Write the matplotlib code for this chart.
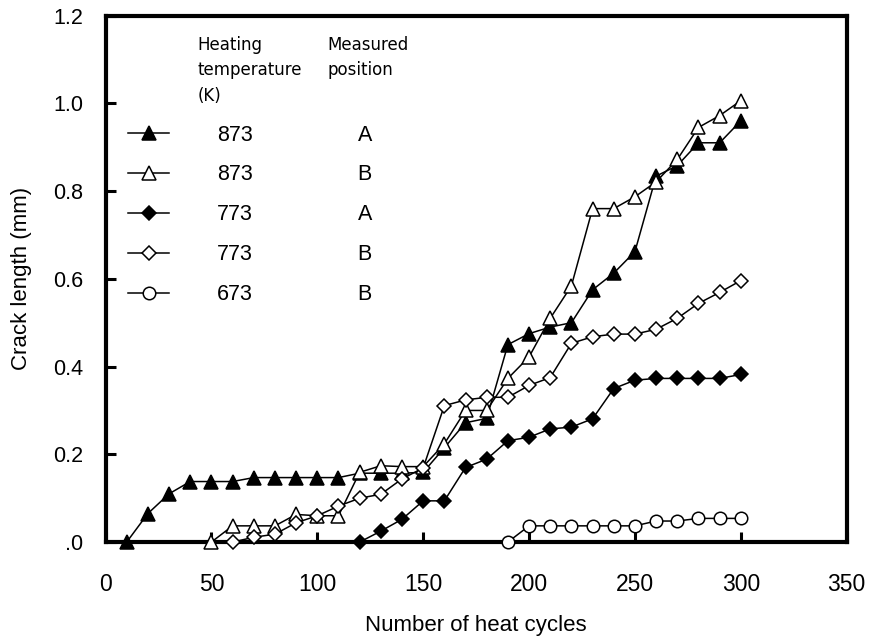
import matplotlib
matplotlib.use("Agg")
import matplotlib.pyplot as plt
from matplotlib.lines import Line2D

plt.rcParams['font.family'] = ['Liberation Sans', 'DejaVu Sans']

# ---- data ----
cyc_873A = [10, 20, 30, 40, 50, 60, 70, 80, 90, 100, 110, 120, 130, 140, 150, 160,
            170, 180, 190, 200, 210, 220, 230, 240, 250, 260, 270, 280, 290, 300]
len_873A = [0.0, 0.065, 0.11, 0.138, 0.138, 0.138, 0.147, 0.147, 0.147, 0.147, 0.147,
            0.157, 0.157, 0.157, 0.159, 0.215, 0.272, 0.282, 0.45, 0.475, 0.49, 0.50,
            0.575, 0.613, 0.662, 0.834, 0.858, 0.91, 0.91, 0.96]

cyc_873B = [50, 60, 70, 80, 90, 100, 110, 120, 130, 140, 150, 160, 170, 180, 190, 200,
            210, 220, 230, 240, 250, 260, 270, 280, 290, 300]
len_873B = [0.0, 0.037, 0.037, 0.037, 0.063, 0.06, 0.06, 0.159, 0.174, 0.172, 0.172,
            0.224, 0.30, 0.30, 0.373, 0.422, 0.51, 0.584, 0.760, 0.760, 0.787, 0.821,
            0.872, 0.945, 0.972, 1.006]

cyc_773A = [120, 130, 140, 150, 160, 170, 180, 190, 200, 210, 220, 230, 240, 250,
            260, 270, 280, 290, 300]
len_773A = [0.0, 0.025, 0.052, 0.094, 0.094, 0.17, 0.189, 0.231, 0.239, 0.258, 0.262,
            0.281, 0.35, 0.369, 0.373, 0.373, 0.373, 0.373, 0.382]

cyc_773B = [60, 70, 80, 90, 100, 110, 120, 130, 140, 150, 160, 170, 180, 190, 200,
            210, 220, 230, 240, 250, 260, 270, 280, 290, 300]
len_773B = [0.0, 0.011, 0.018, 0.044, 0.06, 0.082, 0.10, 0.109, 0.144, 0.169, 0.311,
            0.324, 0.33, 0.33, 0.357, 0.375, 0.453, 0.468, 0.474, 0.474, 0.485, 0.51,
            0.544, 0.569, 0.596]

cyc_673B = [190, 200, 210, 220, 230, 240, 250, 260, 270, 280, 290, 300]
len_673B = [0.0, 0.037, 0.037, 0.037, 0.037, 0.037, 0.037, 0.048, 0.048, 0.054, 0.054, 0.054]

temps = ['873', '873', '773', '773', '673']
positions = ['A', 'B', 'A', 'B', 'B']

xticks = [0, 50, 100, 150, 200, 250, 300, 350]
yticks = [0.0, 0.2, 0.4, 0.6, 0.8, 1.0, 1.2]
ytick_labels = ['.0', '0.2', '0.4', '0.6', '0.8', '1.0', '1.2']

# ---- figure ----
fig = plt.figure(figsize=(8.72, 6.37), dpi=100)
ax = fig.add_axes([0.121, 0.149, 0.850, 0.8266])

series = [
    (cyc_873A, len_873A, '^', 'black', 10.5),
    (cyc_873B, len_873B, '^', 'white', 10.5),
    (cyc_773A, len_773A, 'D', 'black', 7.5),
    (cyc_773B, len_773B, 'D', 'white', 7.5),
    (cyc_673B, len_673B, 'o', 'white', 9),
]
handles = []
for i, (x, y, m, fc, ms) in enumerate(series):
    ln, = ax.plot(x, y, color='black', lw=1.1, marker=m, markersize=ms,
                  markerfacecolor=fc, markeredgecolor='black', markeredgewidth=1.1,
                  zorder=3 + i, clip_on=False)
    handles.append(ln)

ax.set_xlim(0, 350)
ax.set_ylim(0, 1.2)
ax.set_xticks(xticks)
ax.set_yticks(yticks)
ax.set_yticklabels(ytick_labels)

for s in ['top', 'right', 'bottom', 'left']:
    ax.spines[s].set_linewidth(3)
ax.tick_params(direction='in', length=7, width=2.2)
ax.tick_params(axis='x', pad=22, labelsize=16.5)
ax.tick_params(axis='y', pad=16, labelsize=15.5)

ax.set_xlabel('Number of heat cycles', fontsize=16, labelpad=14)
ax.set_ylabel('Crack length (mm)', fontsize=16, labelpad=15)

# legend: temperatures with markers
fs = 15.5
leg1 = ax.legend(handles, temps, loc='upper left', bbox_to_anchor=(0.031, 0.793),
                 frameon=False, fontsize=fs, handlelength=1.9, handletextpad=2.2,
                 labelspacing=0.88, borderpad=0, borderaxespad=0)
ax.add_artist(leg1)
blank = [Line2D([], [], linestyle='none', marker=None) for _ in positions]
ax.legend(blank, positions, loc='upper left', bbox_to_anchor=(0.340, 0.793),
          frameon=False, fontsize=fs, handlelength=0, handletextpad=0,
          labelspacing=0.88, borderpad=0, borderaxespad=0)

ax.text(0.124, 0.962, 'Heating\ntemperature\n(K)', transform=ax.transAxes,
        fontsize=12, va='top', ha='left', linespacing=1.55, family=['DejaVu Sans'])
ax.text(0.299, 0.962, 'Measured\nposition', transform=ax.transAxes,
        fontsize=12, va='top', ha='left', linespacing=1.55, family=['DejaVu Sans'])

fig.savefig('out.png', dpi=100)
